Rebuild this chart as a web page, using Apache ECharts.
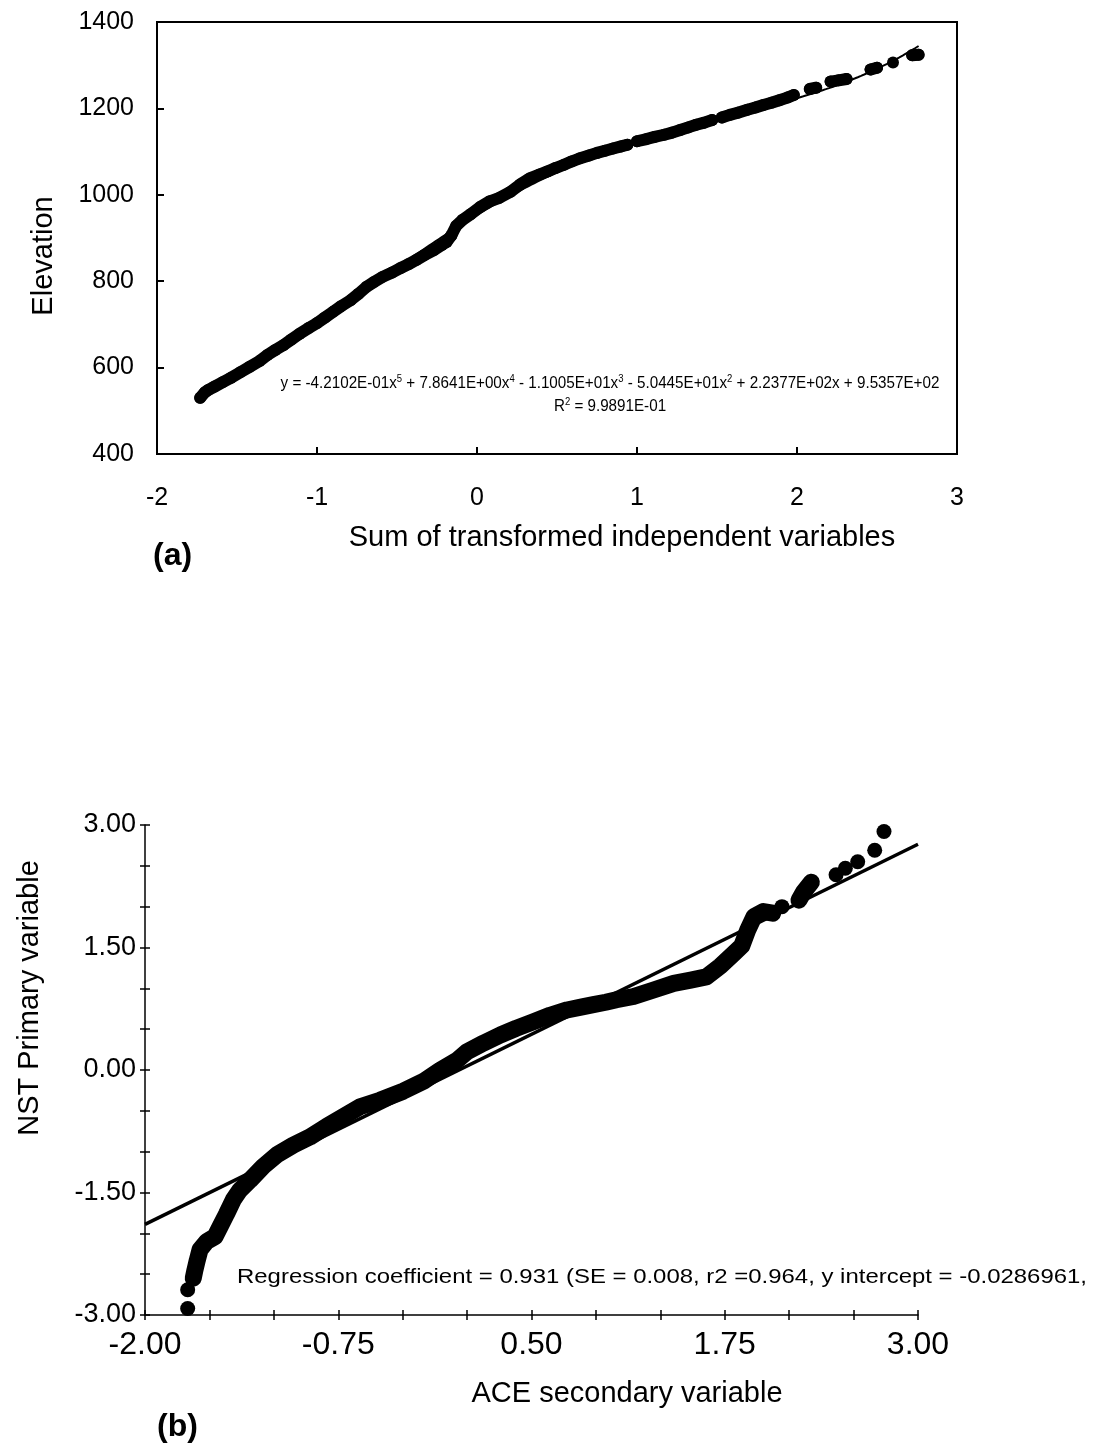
<!DOCTYPE html>
<html><head><meta charset="utf-8">
<script src="https://cdn.jsdelivr.net/npm/echarts@6/dist/echarts.min.js"></script>
<style>html,body{margin:0;padding:0;background:#fff}#c{width:1094px;height:1450px}</style>
</head><body><div id="c"></div>
<script>
const FONT = "'Liberation Sans', Arial, Helvetica, sans-serif";

// ---------- (a) Elevation vs sum of transformed independent variables ----------
const elevX = [-1.73,-1.70,-1.68,-1.64,-1.59,-1.54,-1.48,-1.42,-1.36,-1.31,-1.26,-1.21,-1.16,-1.11,-1.05,-1.00,-0.95,-0.90,-0.85,-0.79,-0.74,-0.69,-0.64,-0.59,-0.53,-0.48,-0.43,-0.38,-0.33,-0.27,-0.22,-0.19,-0.16,-0.13,-0.09,-0.04,0.02,0.08,0.14,0.21,0.27,0.33,0.39,0.44,0.49,0.54,0.59,0.64,0.70,0.75,0.80,0.85,0.90,0.94,
  1.00,1.06,1.11,1.17,1.22,1.27,1.32,1.37,1.42,1.47,
  1.53,1.58,1.63,1.69,1.74,1.79,1.84,1.89,1.94,1.98,
  2.08,2.12,2.21,2.26,2.31,2.46,2.50,2.60,2.72,2.76];
const elevY = [530,543,548,556,566,576,589,602,615,629,641,652,665,678,692,703,716,729,742,756,771,787,799,810,820,830,839,849,860,872,884,891,906,928,942,955,972,985,993,1007,1024,1038,1047,1054,1062,1069,1077,1084,1091,1097,1102,1107,1112,1116,
  1124,1129,1134,1139,1144,1150,1156,1162,1167,1173,
  1179,1185,1190,1197,1202,1208,1213,1219,1225,1231,
  1245,1248,1262,1265,1268,1290,1294,1306,1323,1324];
const elevSegments = [[0,53],[54,63],[64,73],[74,75],[76,78],[79,80],[82,83]];
const polyCoef = [953.57, 223.77, -50.445, -11.005, 7.8641, -0.42102]; // c0..c5
const polyRange = [-1.72, 2.77];
const aXTicks = [-2,-1,0,1,2,3];
const aYTicks = [400,600,800,1000,1200,1400];

// ---------- (b) NST primary vs ACE secondary ----------
const nstX = [-1.724,-1.724,-1.688,-1.677,-1.662,-1.644,-1.601,-1.547,-1.515,-1.472,-1.429,-1.386,-1.321,-1.235,-1.148,-1.041,-0.933,-0.825,-0.717,-0.609,-0.48,-0.33,-0.20,-0.09,0.02,0.08,0.19,0.30,0.40,0.51,0.62,0.73,0.82,0.90,0.98,1.05,1.16,1.29,1.42,1.53,1.63,1.72,1.81,1.86,1.90,1.94,2.00,2.06,2.12,2.23,2.26,2.31,2.47,2.53,2.61,2.72,2.78];
const nstY = [-2.92,-2.69,-2.55,-2.45,-2.33,-2.20,-2.10,-2.04,-1.92,-1.76,-1.59,-1.47,-1.35,-1.18,-1.04,-0.92,-0.82,-0.69,-0.57,-0.45,-0.37,-0.26,-0.14,0.00,0.12,0.22,0.33,0.43,0.51,0.59,0.67,0.735,0.77,0.80,0.83,0.86,0.90,0.98,1.06,1.10,1.14,1.27,1.43,1.52,1.72,1.88,1.94,1.92,2.00,2.08,2.18,2.30,2.39,2.47,2.55,2.69,2.92];
const nstSegments = [[2,47],[49,51]];
const regSlope = 0.931, regIntercept = -0.0286961;
const bXLabels = [-2,-0.75,0.5,1.75,3];
const bXTicks = [-2,-1.5833,-1.1667,-0.75,-0.3333,0.0833,0.5,0.9167,1.3333,1.75,2.1667,2.5833,3];
const bYLabels = [-3,-1.5,0,1.5,3];
const bYTicks = [-3,-2.5,-2,-1.5,-1,-0.5,0,0.5,1,1.5,2,2.5,3];

const eqText = 'y = -4.2102E-01x{s|5} + 7.8641E+00x{s|4} - 1.1005E+01x{s|3} - 5.0445E+01x{s|2} + 2.2377E+02x + 9.5357E+02';
const r2Text = 'R{s|2} = 9.9891E-01';
const regText = 'Regression coefficient = 0.931 (SE = 0.008, r2 =0.964, y intercept = -0.0286961,';

// ---------- build ----------
const pts = (xs, ys) => xs.map((x, i) => [x, ys[i]]);
const elevPts = pts(elevX, elevY);
const nstPts = pts(nstX, nstY);
const poly = x => polyCoef.reduce((s, c, k) => s + c * Math.pow(x, k), 0);
const trend = [];
for (let x = polyRange[0]; x <= polyRange[1] + 1e-9; x += 0.02) trend.push([x, poly(x)]);

const bandLine = (all, seg, xi, yi, w) => ({
  type: 'line', xAxisIndex: xi, yAxisIndex: yi, data: all.slice(seg[0], seg[1] + 1),
  showSymbol: false, silent: true, z: 3,
  lineStyle: { color: '#000', width: w, cap: 'round', join: 'round', opacity: 1 }
});

const black = '#000';
const option = {
  animation: false,
  backgroundColor: '#fff',
  grid: [
    { left: 157, top: 22, width: 800, height: 432, show: true, borderColor: black, borderWidth: 2, containLabel: false },
    { left: 145, top: 825, width: 773, height: 490, containLabel: false }
  ],
  xAxis: [
    { type: 'value', gridIndex: 0, min: -2, max: 3, interval: 1,
      axisLine: { show: true, onZero: false, lineStyle: { color: black, width: 2 } },
      axisTick: { show: true, inside: true, length: 7, lineStyle: { color: black, width: 2 } },
      axisLabel: { fontSize: 25, color: black, fontFamily: FONT, margin: 32, customValues: aXTicks, formatter: v => String(v) },
      splitLine: { show: false } },
    { type: 'value', gridIndex: 1, min: -2, max: 3, position: 'bottom',
      axisLine: { show: true, onZero: false, lineStyle: { color: black, width: 1.5 } },
      axisTick: { show: true, inside: false, length: 5, customValues: bXTicks, lineStyle: { color: black, width: 1.5 } },
      axisLabel: { fontSize: 32, color: black, fontFamily: FONT, margin: 14, customValues: bXLabels, formatter: v => v.toFixed(2) },
      splitLine: { show: false } },
    { type: 'value', gridIndex: 1, min: -2, max: 3, position: 'bottom',
      axisLine: { show: false, onZero: false },
      axisTick: { show: true, inside: true, length: 5, customValues: bXTicks, lineStyle: { color: black, width: 1.5 } },
      axisLabel: { show: false },
      splitLine: { show: false } }
  ],
  yAxis: [
    { type: 'value', gridIndex: 0, min: 400, max: 1400, interval: 200,
      axisLine: { show: true, onZero: false, lineStyle: { color: black, width: 2 } },
      axisTick: { show: true, inside: true, length: 7, lineStyle: { color: black, width: 2 } },
      axisLabel: { fontSize: 25, color: black, fontFamily: FONT, margin: 23, customValues: aYTicks, formatter: v => String(v) },
      splitLine: { show: false } },
    { type: 'value', gridIndex: 1, min: -3, max: 3, position: 'left',
      axisLine: { show: true, onZero: false, lineStyle: { color: black, width: 1.5 } },
      axisTick: { show: true, inside: false, length: 5, customValues: bYTicks, lineStyle: { color: black, width: 1.5 } },
      axisLabel: { fontSize: 27, color: black, fontFamily: FONT, margin: 9, customValues: bYLabels, formatter: v => v.toFixed(2) },
      splitLine: { show: false } },
    { type: 'value', gridIndex: 1, min: -3, max: 3, position: 'left',
      axisLine: { show: false, onZero: false },
      axisTick: { show: true, inside: true, length: 5, customValues: bYTicks, lineStyle: { color: black, width: 1.5 } },
      axisLabel: { show: false },
      splitLine: { show: false } }
  ],
  series: [
    { type: 'line', xAxisIndex: 0, yAxisIndex: 0, data: trend, showSymbol: false, silent: true, z: 2,
      lineStyle: { color: black, width: 2 } },
    ...elevSegments.map(s => bandLine(elevPts, s, 0, 0, 12)),
    { type: 'scatter', xAxisIndex: 0, yAxisIndex: 0, data: elevPts, symbolSize: 12, itemStyle: { color: black, opacity: 1 }, z: 4, silent: true },
    { type: 'line', xAxisIndex: 1, yAxisIndex: 1, silent: true, showSymbol: false, z: 2,
      data: [[-2, regSlope * -2 + regIntercept], [3, regSlope * 3 + regIntercept]],
      lineStyle: { color: black, width: 3.5 } },
    ...nstSegments.map(s => bandLine(nstPts, s, 1, 1, 17)),
    { type: 'scatter', xAxisIndex: 1, yAxisIndex: 1, data: nstPts, symbolSize: 15, itemStyle: { color: black, opacity: 1 }, z: 4, silent: true }
  ],
  graphic: [
    { type: 'text', x: 44, y: 256, rotation: Math.PI / 2,
      style: { text: 'Elevation', font: '29px ' + FONT, fill: black, align: 'center', verticalAlign: 'middle' } },
    { type: 'text', x: 622, y: 538,
      style: { text: 'Sum of transformed independent variables', font: '29px ' + FONT, fill: black, align: 'center', verticalAlign: 'middle' } },
    { type: 'text', x: 153, y: 556,
      style: { text: '(a)', font: 'bold 32px ' + FONT, fill: black, align: 'left', verticalAlign: 'middle' } },
    { type: 'text', x: 610, y: 384, scaleX: 0.95, originX: 0, originY: 0,
      style: { text: eqText, font: '16px ' + FONT, fill: black, align: 'center', verticalAlign: 'middle',
        rich: { s: { fontSize: 10, fontFamily: FONT, padding: [0, 0, 9, 0] } } } },
    { type: 'text', x: 610, y: 407, scaleX: 0.95,
      style: { text: r2Text, font: '16px ' + FONT, fill: black, align: 'center', verticalAlign: 'middle',
        rich: { s: { fontSize: 10, fontFamily: FONT, padding: [0, 0, 9, 0] } } } },
    { type: 'text', x: 30, y: 998, rotation: Math.PI / 2,
      style: { text: 'NST Primary variable', font: '29px ' + FONT, fill: black, align: 'center', verticalAlign: 'middle' } },
    { type: 'text', x: 627, y: 1394,
      style: { text: 'ACE secondary variable', font: '29px ' + FONT, fill: black, align: 'center', verticalAlign: 'middle' } },
    { type: 'text', x: 157, y: 1427,
      style: { text: '(b)', font: 'bold 32px ' + FONT, fill: black, align: 'left', verticalAlign: 'middle' } },
    { type: 'text', x: 237, y: 1277, scaleX: 1.14,
      style: { text: regText, font: '21px ' + FONT, fill: black, align: 'left', verticalAlign: 'middle' } }
  ]
};
const chart = echarts.init(document.getElementById('c'), null, { renderer: 'canvas' });
chart.setOption(option);
</script>
</body></html>
